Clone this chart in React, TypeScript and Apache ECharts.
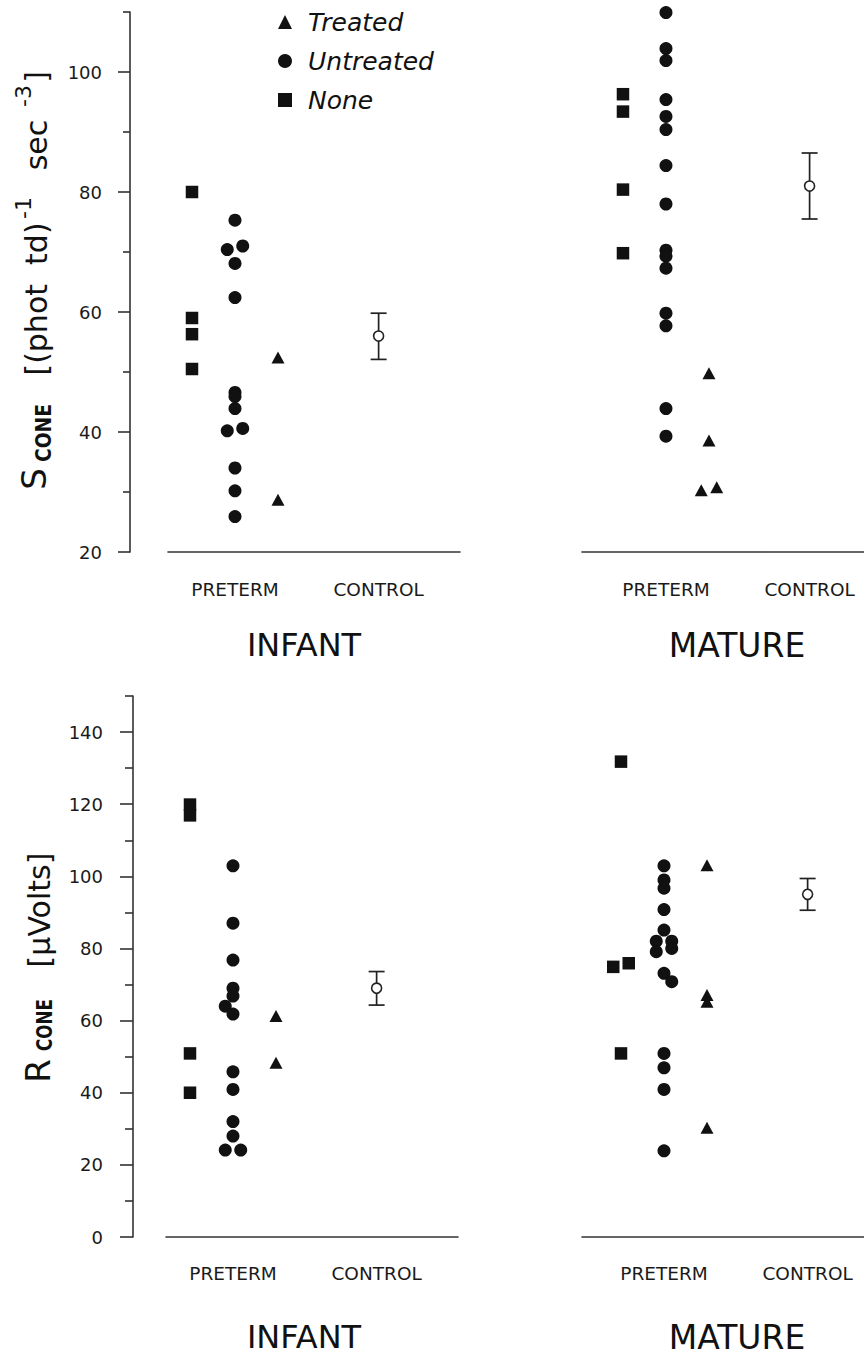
import React, { useEffect, useRef } from 'react';
import * as echarts from 'echarts';

const FONT = '"DejaVu Sans", "Liberation Sans", Arial, sans-serif';
const INK = '#111';
const AXIS = '#333';

// horizontal group positions (shared by all four panels)
const xNone = 1;
const xUntreated = 2;
const xTreated = 3;
const xControl = 5.34;
const jitterStep = 0.18;

const xTickLabels = ['PRETERM', 'CONTROL'];
const xTickPositions = [xUntreated, xControl];
const panelTitles = ['INFANT', 'MATURE'];

const sTickValues = [20, 40, 60, 80, 100];
const sMinorTickValues = [30, 50, 70, 90, 110];
const rTickValues = [0, 20, 40, 60, 80, 100, 120, 140];
const rMinorTickValues = [10, 30, 50, 70, 90, 110, 130, 150];

// S_CONE – infants
const sInfantNone = [80, 59, 56.3, 50.5];
const sInfantNoneSide = [0, 0, 0, 0];
const sInfantUntreated = [75.3, 71.0, 70.4, 68.1, 62.4, 46.6, 45.9, 43.9, 40.6, 40.2, 34.0, 30.2, 25.9];
const sInfantUntreatedSide = [0, 1, -1, 0, 0, 0, 0, 0, 1, -1, 0, 0, 0];
const sInfantTreated = [52.4, 28.7];
const sInfantTreatedSide = [0, 0];
const sInfantControl = [56, 52.1, 59.8]; // mean, low, high

// S_CONE – mature
const sMatureNone = [96.3, 93.4, 80.4, 69.8];
const sMatureNoneSide = [0, 0, 0, 0];
const sMatureUntreated = [109.9, 103.9, 101.9, 95.4, 92.6, 90.4, 84.4, 78.0, 70.3, 69.3, 67.3, 59.8, 57.7, 43.9, 39.3];
const sMatureUntreatedSide = [0, 0, 0, 0, 0, 0, 0, 0, 0, 0, 0, 0, 0, 0, 0];
const sMatureTreated = [49.8, 38.6, 30.3, 30.8];
const sMatureTreatedSide = [0, 0, -1, 1];
const sMatureControl = [81.0, 75.5, 86.5];

// R_CONE – infants
const rInfantNone = [119.9, 116.9, 50.9, 40.0];
const rInfantNoneSide = [0, 0, 0, 0];
const rInfantUntreated = [102.9, 87.0, 76.8, 69.0, 66.8, 64.0, 61.8, 45.8, 40.9, 32.0, 28.0, 24.1, 24.1];
const rInfantUntreatedSide = [0, 0, 0, 0, 0, -1, 0, 0, 0, 0, 0, -1, 1];
const rInfantTreated = [61.3, 48.3];
const rInfantTreatedSide = [0, 0];
const rInfantControl = [69.0, 64.3, 73.6];

// R_CONE – mature
const rMatureNone = [131.8, 75.9, 74.9, 50.9];
const rMatureNoneSide = [0, 1, -1, 0];
const rMatureUntreated = [102.9, 99.0, 96.7, 90.8, 85.1, 82.0, 82.0, 80.0, 79.1, 73.1, 70.8, 50.9, 46.9, 40.9, 23.9];
const rMatureUntreatedSide = [0, 0, 0, 0, 0, -1, 1, 1, -1, 0, 1, 0, 0, 0, 0];
const rMatureTreated = [103.1, 67.1, 65.2, 30.3];
const rMatureTreatedSide = [0, 0, 0, 0];
const rMatureControl = [95.0, 90.6, 99.4];

const panels = [
  { none: sInfantNone, noneSide: sInfantNoneSide, untreated: sInfantUntreated, untreatedSide: sInfantUntreatedSide, treated: sInfantTreated, treatedSide: sInfantTreatedSide, control: sInfantControl },
  { none: sMatureNone, noneSide: sMatureNoneSide, untreated: sMatureUntreated, untreatedSide: sMatureUntreatedSide, treated: sMatureTreated, treatedSide: sMatureTreatedSide, control: sMatureControl },
  { none: rInfantNone, noneSide: rInfantNoneSide, untreated: rInfantUntreated, untreatedSide: rInfantUntreatedSide, treated: rInfantTreated, treatedSide: rInfantTreatedSide, control: rInfantControl },
  { none: rMatureNone, noneSide: rMatureNoneSide, untreated: rMatureUntreated, untreatedSide: rMatureUntreatedSide, treated: rMatureTreated, treatedSide: rMatureTreatedSide, control: rMatureControl },
];

const PX_PER_UNIT = 43;
const grids = [
  { left: 168, top: 12, width: 292, height: 540, xMin: 0.442 },
  { left: 582, top: 12, width: 282, height: 540, xMin: 0.047 },
  { left: 166, top: 696, width: 292, height: 541, xMin: 0.442 },
  { left: 582, top: 696, width: 282, height: 541, xMin: 0.093 },
];

const toPoints = (vals: number[], side: number[], base: number) =>
  vals.map((v, i) => [base + side[i] * jitterStep, v]);

const vText = (text: string, x: number, y: number, size: number, sx = 1, weight = 'normal') => ({
  type: 'text',
  x,
  y,
  rotation: Math.PI / 2,
  scaleX: sx,
  silent: true,
  style: {
    text,
    fontSize: size,
    fontFamily: FONT,
    fontWeight: weight,
    fill: INK,
    align: 'center',
    verticalAlign: 'middle',
    textAlign: 'center',
    textVerticalAlign: 'middle',
  },
});

const hText = (text: string, x: number, y: number, size: number) => ({
  type: 'text',
  x,
  y,
  silent: true,
  style: {
    text,
    fontSize: size,
    fontFamily: FONT,
    fill: INK,
    align: 'center',
    verticalAlign: 'middle',
    textAlign: 'center',
    textVerticalAlign: 'middle',
  },
});

export default function App() {
  const ref = useRef<HTMLDivElement>(null);
  useEffect(() => {
    if (!ref.current) return;
    const chart = echarts.init(ref.current, undefined, { renderer: 'svg' });
    const axisLineStyle = { color: AXIS, width: 1.6 };

    const xAxis = grids.map((g, i) => ({
      type: 'value',
      gridIndex: i,
      position: 'bottom',
      min: g.xMin,
      max: g.xMin + g.width / PX_PER_UNIT,
      axisLine: { show: true, onZero: false, lineStyle: axisLineStyle },
      axisTick: { show: false },
      splitLine: { show: false },
      axisLabel: {
        customValues: xTickPositions,
        formatter: (v: number) => {
          let best = 0;
          xTickPositions.forEach((p, k) => { if (Math.abs(p - v) < Math.abs(xTickPositions[best] - v)) best = k; });
          return xTickLabels[best];
        },
        fontSize: 18.5,
        fontFamily: FONT,
        color: '#1a1a1a',
        margin: i < 2 ? 28 : 27,
      },
    }));

    const yMain = (gridIndex: number, min: number, max: number, offset: number, ticks: number[], len: number, margin: number, show: boolean) => ({
      type: 'value',
      gridIndex,
      position: 'left',
      min,
      max,
      show,
      offset,
      axisLine: { show: true, onZero: false, lineStyle: axisLineStyle },
      axisTick: { show: true, customValues: ticks, length: len, lineStyle: axisLineStyle },
      axisLabel: { customValues: ticks, margin, fontSize: 18, fontFamily: FONT, color: '#1a1a1a' },
      splitLine: { show: false },
    });
    const yMinor = (gridIndex: number, min: number, max: number, offset: number, ticks: number[], len: number) => ({
      type: 'value',
      gridIndex,
      position: 'left',
      min,
      max,
      offset,
      axisLine: { show: false, onZero: false },
      axisTick: { show: true, customValues: ticks, length: len, lineStyle: axisLineStyle },
      axisLabel: { show: false },
      splitLine: { show: false },
    });

    const yAxis = [
      yMain(0, 20, 110, 38, sTickValues, 12, 28, true),
      yMain(1, 20, 110, 0, sTickValues, 12, 28, false),
      yMain(2, 0, 150, 33, rTickValues, 13, 30, true),
      yMain(3, 0, 150, 0, rTickValues, 13, 30, false),
      yMinor(0, 20, 110, 38, sMinorTickValues, 7),
      yMinor(2, 0, 150, 33, rMinorTickValues, 8),
    ];

    const series: any[] = [];
    panels.forEach((p, i) => {
      const base = { xAxisIndex: i, yAxisIndex: i, clip: false, silent: true };
      series.push({ ...base, type: 'scatter', name: 'None', symbol: 'rect', symbolSize: 12.5, itemStyle: { color: INK, opacity: 1 }, data: toPoints(p.none, p.noneSide, xNone) });
      series.push({ ...base, type: 'scatter', name: 'Untreated', symbol: 'circle', symbolSize: 13, itemStyle: { color: INK, opacity: 1 }, data: toPoints(p.untreated, p.untreatedSide, xUntreated) });
      series.push({ ...base, type: 'scatter', name: 'Treated', symbol: 'triangle', symbolSize: [13, 12], itemStyle: { color: INK, opacity: 1 }, data: toPoints(p.treated, p.treatedSide, xTreated) });
      series.push({
        ...base,
        type: 'custom',
        name: 'ControlRange',
        data: [[xControl, p.control[1], p.control[2]]],
        encode: { x: 0, y: [1, 2] },
        renderItem: (params: any, api: any) => {
          const x = api.value(0);
          const lo = api.coord([x, api.value(1)]);
          const hi = api.coord([x, api.value(2)]);
          const hw = 8;
          const st = { stroke: '#222', lineWidth: 1.7 };
          return {
            type: 'group',
            children: [
              { type: 'line', shape: { x1: lo[0], y1: lo[1], x2: hi[0], y2: hi[1] }, style: st },
              { type: 'line', shape: { x1: lo[0] - hw, y1: lo[1], x2: lo[0] + hw, y2: lo[1] }, style: st },
              { type: 'line', shape: { x1: hi[0] - hw, y1: hi[1], x2: hi[0] + hw, y2: hi[1] }, style: st },
            ],
          };
        },
        z: 2,
      });
      series.push({ ...base, type: 'scatter', name: 'Control', symbol: 'circle', symbolSize: 10, itemStyle: { color: '#fff', borderColor: '#222', borderWidth: 1.6, opacity: 1 }, data: [[xControl, p.control[0]]], z: 4 });
    });

    const graphic = [
      // top y-axis title: S_CONE [(phot td)^-1 sec^-3]
      vText('S', 34, 479, 34),
      vText('CONE', 43.5, 433, 22, 0.85, 'bold'),
      vText('[(phot  td)', 36, 299, 30),
      vText('-1', 23, 208, 22),
      vText('sec', 36, 145, 30),
      vText('-3', 23, 96, 22),
      vText(']', 36, 77, 30),
      // bottom y-axis title: R_CONE [μVolts]
      vText('R', 37.5, 1071, 34),
      vText('CONE', 45, 1025, 22, 0.76, 'bold'),
      vText('[μVolts]', 39, 910, 30),
      // panel titles
      hText(panelTitles[0], 304, 645, 32),
      hText(panelTitles[1], 737, 645, 33),
      hText(panelTitles[0], 304, 1337, 32),
      hText(panelTitles[1], 737, 1337, 33),
    ];

    chart.setOption({
      animation: false,
      backgroundColor: '#fff',
      textStyle: { fontFamily: FONT },
      grid: grids.map((g) => ({ left: g.left, top: g.top, width: g.width, height: g.height, containLabel: false, outerBoundsMode: 'none' })),
      legend: {
        orient: 'vertical',
        left: 273,
        top: 4,
        itemWidth: 14,
        itemHeight: 14,
        itemGap: 13,
        selectedMode: false,
        data: [
          { name: 'Treated', icon: 'triangle' },
          { name: 'Untreated', icon: 'circle' },
          { name: 'None', icon: 'rect' },
        ],
        textStyle: { fontSize: 25, fontStyle: 'italic', fontFamily: FONT, color: INK, lineHeight: 26, padding: [0, 0, 0, 11] },
      },
      xAxis,
      yAxis,
      series,
      graphic,
    });
    return () => chart.dispose();
  }, []);
  return <div ref={ref} style={{ position: 'absolute', left: 0, top: 0, width: 864, height: 1355, background: '#fff' }} />;
}
